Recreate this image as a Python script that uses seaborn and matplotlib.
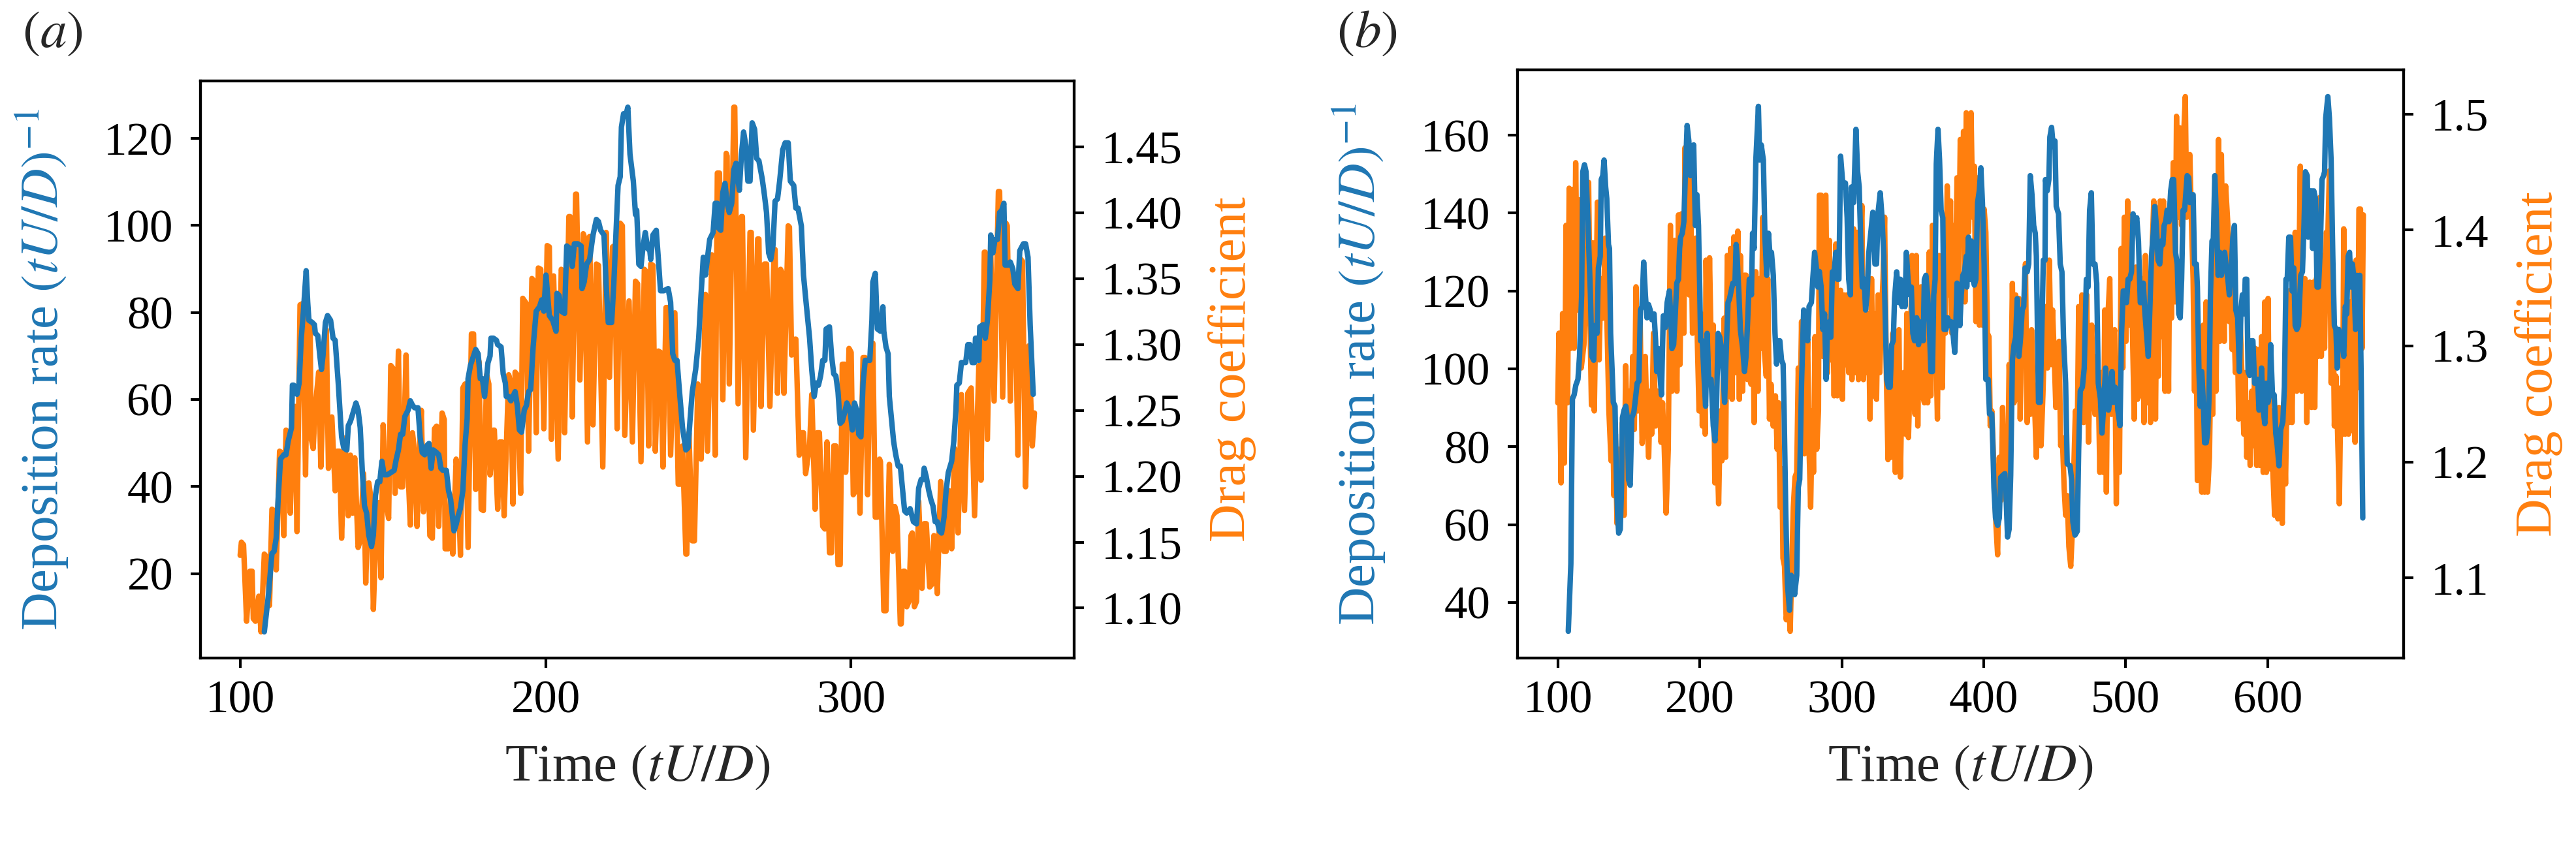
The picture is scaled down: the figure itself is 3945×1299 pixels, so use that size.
import numpy as np
import matplotlib
matplotlib.use("Agg")
import matplotlib.pyplot as plt
import seaborn as sns

# ---------------- data: panel (a) ----------------
a_blue_t = [107.9,109.3,110.4,111.1,111.8,112.5,113.2,114.3,115.0,115.7,116.8,117.1,117.5,118.6,119.3,120.0,120.7,121.6,122.1,122.5,123.6,124.3,124.6,125.4,126.1,126.6,127.1,127.9,128.6,129.6,130.4,131.1,132.1,133.2,133.9,134.9,135.4,136.1,136.8,137.9,138.6,139.3,140.0,140.7,141.4,142.1,143.0,143.6,144.3,145.0,145.7,146.4,147.1,148.2,149.3,150.4,151.1,151.8,152.5,153.2,153.9,155.0,155.7,156.4,157.1,158.2,158.9,159.6,160.4,161.1,161.8,162.5,163.2,164.3,165.0,165.7,166.4,167.5,168.2,168.9,170.0,170.7,171.4,172.1,172.9,173.6,174.3,174.6,175.4,176.1,177.1,177.9,178.6,179.3,180.0,180.7,181.1,181.8,182.1,182.9,183.9,184.3,185.4,186.1,186.8,187.1,187.9,188.6,189.3,190.0,190.7,191.4,192.1,
            193.0,193.7,194.4,195.1,195.9,196.9,198.0,198.7,199.4,200.1,201.2,202.3,203.4,203.7,204.4,205.1,206.2,206.9,208.0,208.7,209.4,210.5,211.6,211.9,212.6,213.4,214.4,215.5,216.6,217.3,218.0,219.1,219.8,220.5,221.6,222.3,223.7,224.4,224.8,225.5,226.2,226.9,227.6,228.7,229.4,229.8,230.5,231.2,231.9,232.6,233.4,234.1,234.4,235.1,236.2,236.9,237.6,238.7,240.1,240.9,241.6,242.3,243.0,243.7,244.8,245.9,246.6,247.3,248.0,249.1,250.1,250.9,251.6,252.3,253.0,253.7,254.8,255.5,256.2,256.6,257.3,258.0,258.7,259.4,260.1,260.9,261.6,262.3,263.4,264.1,264.8,265.5,266.2,266.9,267.6,268.4,269.1,269.8,270.9,271.6,272.3,273.0,273.7,274.4,275.1,275.9,276.6,277.6,278.4,279.4,280.1,281.2,281.9,282.6,283.7,284.4,285.1,
            286.4,287.1,287.9,288.6,289.3,290.0,290.7,291.4,291.8,292.9,293.6,294.3,295.0,295.7,296.4,297.1,297.9,298.6,299.6,300.4,301.1,301.8,302.5,303.2,303.9,304.6,306.1,306.8,307.1,307.9,308.6,309.6,310.4,310.7,311.4,312.1,312.5,313.2,313.9,314.6,315.4,316.1,316.8,317.5,318.2,319.3,320.4,321.4,322.1,322.9,323.6,323.9,324.6,325.4,326.1,326.8,327.5,328.2,328.9,329.6,330.4,331.1,331.8,332.9,333.6,334.3,334.6,335.4,336.1,337.5,338.2,338.9,339.6,340.4,340.7,341.4,341.8,342.1,343.2,343.9,344.6,345.4,345.7,346.4,347.1,347.9,348.6,349.3,350.0,350.4,351.4,352.1,352.9,353.6,354.6,355.2,356.4,357.1,357.9,358.6,359.6]
a_blue_v = [6.6,15.4,24.6,25.1,28.2,38.0,46.3,47.3,47.3,50.4,53.5,63.3,63.3,61.2,63.8,74.1,80.3,89.6,82.4,78.2,77.7,77.2,75.2,74.7,70.0,66.9,70.0,77.7,79.3,78.2,74.1,73.6,63.8,51.4,48.9,48.4,54.0,55.0,56.6,59.2,57.6,53.5,43.2,35.5,33.9,28.8,26.2,28.8,38.0,41.1,41.1,45.8,42.7,42.7,43.2,43.7,46.3,48.4,52.0,52.0,56.1,57.6,59.7,58.7,58.1,58.1,51.4,47.8,47.3,49.4,49.9,44.2,48.4,47.8,47.3,44.2,43.7,43.7,39.1,37.0,29.8,31.3,33.4,35.0,39.1,49.4,55.6,64.8,67.9,69.4,71.5,70.5,64.8,64.8,60.7,65.4,68.4,70.0,74.1,74.1,73.6,72.6,72.1,65.9,63.8,60.7,60.7,59.7,60.7,61.8,58.7,53.0,52.5,
            57.6,58.6,61.8,62.3,72.1,80.3,81.3,82.9,80.3,88.6,79.3,78.2,75.7,84.4,83.9,80.3,79.8,95.3,94.7,90.6,95.8,95.8,95.3,85.5,87.0,91.1,92.2,97.8,101.4,100.9,98.9,97.8,86.5,77.7,77.7,86.5,109.2,111.2,122.6,125.7,125.2,127.2,116.4,110.2,102.5,103.5,91.1,90.6,95.3,98.4,94.7,94.2,92.2,97.8,98.9,92.2,85.0,85.0,85.5,82.4,70.5,69.0,69.0,62.8,53.5,48.4,48.9,55.6,61.8,66.9,74.1,84.4,92.7,88.6,92.7,96.8,98.4,105.1,105.1,99.4,98.9,107.6,109.7,105.1,103.0,105.1,112.8,114.3,108.1,116.4,121.5,118.5,110.2,110.2,123.6,122.1,115.4,114.9,110.7,107.1,103.0,93.7,92.2,95.3,105.6,106.1,110.2,117.4,119.0,119.0,110.2,109.2,104.0,104.0,99.9,88.6,83.4,
            74.1,66.9,60.7,63.8,63.3,65.4,69.0,69.0,76.2,76.7,70.0,65.9,65.4,61.8,54.5,55.0,57.1,59.2,57.6,53.0,59.2,57.6,52.0,51.4,63.8,69.0,69.0,78.2,87.0,89.0,76.2,75.7,81.3,75.7,72.1,70.5,60.7,55.6,50.4,47.3,44.7,44.7,39.6,34.4,33.9,34.9,31.9,31.4,39.6,41.6,41.6,44.2,42.2,39.1,37.0,35.5,31.9,31.9,29.8,29.3,32.9,39.1,43.2,45.8,50.4,57.6,63.3,63.8,68.5,68.5,72.6,72.6,68.5,68.5,74.1,74.1,69.0,76.7,77.2,74.1,78.2,87.5,97.8,93.7,96.8,96.8,103.0,103.5,105.1,90.9,90.9,91.6,90.1,86.5,85.5,94.2,95.8,95.8,92.7,77.2,61.2]

a_drag_t = [100.0,100.4,101.1,102.1,103.2,103.9,104.3,105.0,106.1,106.8,107.9,108.9,109.6,110.4,111.1,111.8,112.9,113.6,114.3,115.0,115.7,116.4,117.1,117.9,118.6,119.6,120.4,121.4,122.1,122.9,123.2,123.9,124.6,125.7,126.4,127.5,128.2,128.9,130.0,131.1,131.8,132.5,133.2,134.3,135.4,136.1,136.8,137.5,138.6,139.3,140.4,141.1,142.1,142.9,143.6,144.3,145.4,146.1,146.8,147.9,148.6,149.3,150.0,150.7,151.8,152.5,153.2,154.3,155.0,155.7,156.4,157.1,157.9,158.6,159.3,160.0,160.7,161.4,162.1,162.9,163.6,164.3,165.0,166.1,166.8,167.1,168.2,168.9,169.6,170.7,171.4,172.1,172.9,173.6,174.6,175.7,176.4,177.1,178.2,178.9,179.6,180.7,181.4,181.8,182.9,183.2,184.3,185.0,185.7,186.4,187.9,188.6,189.3,190.0,190.7,191.8,192.5,
            193.7,194.4,195.5,196.2,196.9,197.6,198.4,199.4,200.5,201.2,201.9,202.6,204.1,205.1,205.5,206.2,207.6,208.0,208.7,209.8,210.1,211.2,212.3,212.6,213.7,214.4,215.5,216.6,217.3,218.7,219.8,220.9,221.9,222.6,223.4,224.4,225.1,225.9,227.3,228.4,229.4,230.1,231.2,232.3,233.0,233.7,234.4,235.1,235.9,236.9,237.6,238.4,239.4,240.1,240.9,242.3,243.4,244.1,244.8,245.9,246.2,246.9,248.0,248.7,249.8,250.9,251.9,252.3,253.0,254.4,255.5,256.2,256.9,258.0,259.1,259.4,260.1,261.6,261.9,263.0,264.1,264.4,265.5,266.9,267.3,268.0,269.4,269.8,270.5,271.6,272.3,273.4,274.8,275.1,275.9,276.9,277.3,278.0,279.4,279.8,280.5,281.6,281.9,283.0,283.7,284.4,285.1,
            286.4,287.1,288.2,288.9,289.6,290.7,291.4,292.1,292.9,293.6,294.3,295.0,295.7,296.4,297.1,297.9,298.2,299.3,300.0,300.7,301.4,302.1,302.9,303.9,304.6,305.4,306.1,307.1,307.9,308.6,309.3,309.6,310.7,311.4,312.5,313.6,314.3,315.0,316.1,316.4,317.1,317.5,318.2,318.9,319.6,320.0,320.7,321.4,322.1,323.2,323.9,324.6,325.7,326.4,327.1,328.2,329.3,330.4,331.1,332.1,332.9,333.9,335.0,336.1,337.1,338.2,339.3,340.4,341.8,342.5,343.6,343.9,344.6,345.7,346.8,348.2,348.6,349.6,350.7,351.1,352.1,352.9,353.6,354.6,355.4,356.1,357.1,358.2,359.3,360.0]
a_drag_c = [1.140,1.150,1.148,1.090,1.128,1.128,1.092,1.090,1.109,1.082,1.141,1.138,1.102,1.175,1.174,1.129,1.219,1.218,1.155,1.235,1.233,1.172,1.233,1.253,1.158,1.330,1.331,1.201,1.321,1.317,1.229,1.221,1.253,1.279,1.207,1.283,1.311,1.206,1.245,1.189,1.219,1.219,1.153,1.229,1.170,1.216,1.172,1.214,1.146,1.151,1.202,1.119,1.195,1.182,1.099,1.148,1.180,1.123,1.239,1.177,1.168,1.284,1.282,1.187,1.295,1.192,1.192,1.292,1.202,1.163,1.233,1.219,1.162,1.213,1.250,1.173,1.182,1.219,1.155,1.153,1.236,1.238,1.162,1.248,1.243,1.145,1.145,1.185,1.141,1.213,1.192,1.140,1.267,1.270,1.146,1.308,1.308,1.190,1.287,1.175,1.174,1.277,1.270,1.201,1.235,1.235,1.175,1.226,1.226,1.170,1.277,1.270,1.179,1.279,1.277,1.187,1.335,
            1.331,1.219,1.350,1.348,1.233,1.358,1.357,1.236,1.375,1.374,1.228,1.352,1.213,1.357,1.355,1.233,1.397,1.397,1.245,1.414,1.414,1.273,1.384,1.382,1.226,1.382,1.239,1.361,1.360,1.207,1.385,1.275,1.374,1.375,1.236,1.392,1.390,1.231,1.333,1.226,1.348,1.346,1.211,1.357,1.355,1.223,1.361,1.360,1.219,1.295,1.294,1.207,1.328,1.328,1.216,1.324,1.194,1.194,1.223,1.141,1.141,1.233,1.151,1.151,1.270,1.213,1.294,1.338,1.219,1.368,1.216,1.430,1.430,1.258,1.445,1.443,1.270,1.480,1.480,1.255,1.397,1.397,1.214,1.385,1.385,1.235,1.380,1.380,1.253,1.361,1.361,1.253,1.372,1.372,1.263,1.357,1.355,1.263,1.390,1.389,1.292,1.304,1.304,1.216,1.233,1.233,1.202,
            1.223,1.262,1.175,1.233,1.233,1.162,1.160,1.226,1.142,1.142,1.223,1.223,1.133,1.133,1.285,1.285,1.203,1.297,1.294,1.186,1.189,1.250,1.172,1.290,1.290,1.186,1.284,1.301,1.169,1.169,1.213,1.211,1.098,1.098,1.209,1.143,1.177,1.170,1.088,1.088,1.128,1.128,1.101,1.105,1.155,1.157,1.101,1.105,1.181,1.115,1.164,1.164,1.116,1.118,1.155,1.111,1.196,1.143,1.143,1.189,1.145,1.221,1.157,1.262,1.174,1.263,1.267,1.170,1.284,1.197,1.370,1.370,1.228,1.370,1.257,1.416,1.416,1.260,1.392,1.390,1.257,1.351,1.348,1.216,1.365,1.363,1.192,1.299,1.223,1.248]

# ---------------- data: panel (b) ----------------
b_blue_t = [107.4,109.2,110.3,111.5,112.7,114.2,115.3,116.8,117.6,118.8,119.9,121.4,123.0,124.0,125.3,126.0,127.6,128.6,129.9,130.6,131.7,132.6,133.7,134.5,135.7,136.4,137.2,138.3,139.1,140.3,141.3,142.1,142.9,144.0,144.9,145.5,146.7,147.9,149.0,149.8,151.0,152.1,153.6,154.7,155.9,157.1,158.2,159.3,160.5,161.7,162.8,163.9,165.1,166.3,167.8,168.9,169.7,170.9,172.0,173.0,174.3,175.8,177.0,178.6,179.6,180.4,181.6,182.7,183.8,185.0,185.8,186.5,187.7,188.8,189.9,191.1,192.3,193.4,194.5,195.7,196.9,198.0,199.1,200.0,200.6,201.8,203.1,204.1,205.2,206.4,208.0,209.5,210.7,211.8,212.9,214.1,215.3,216.4,217.5,218.7,219.9,221.0,222.1,223.3,224.8,225.6,226.3,227.6,228.6,
            230.3,231.5,232.6,233.7,234.9,236.4,237.2,238.3,239.5,241.3,242.2,243.3,244.8,245.9,247.2,248.4,249.5,250.5,251.8,253.0,254.1,255.1,256.4,257.6,258.7,259.4,260.6,261.7,263.2,264.3,265.5,266.8,268.3,269.4,270.4,271.7,273.2,274.7,276.0,277.0,278.6,279.6,280.9,282.1,283.2,284.2,285.5,286.7,287.9,289.0,290.0,291.3,292.3,293.4,294.6,295.9,296.9,298.0,299.2,300.5,301.5,302.6,303.8,304.9,306.1,306.9,308.4,310.0,311.2,312.3,313.3,314.5,315.8,316.8,317.9,319.1,320.7,321.9,323.4,324.5,325.6,327.1,328.3,329.6,330.6,331.7,332.9,334.1,335.2,336.3,337.2,338.7,340.3,341.3,342.4,343.6,344.6,345.5,346.7,347.9,349.0,350.1,351.3,352.8,354.1,355.1,356.2,357.4,358.2,359.3,360.5,361.7,362.8,363.9,364.8,365.8,366.6,367.8,368.9,370.0,371.2,372.1,373.5,374.6,375.8,377.0,378.1,379.6,380.4,381.2,382.2,383.2,384.2,385.3,386.5,387.7,
            388.1,389.3,390.4,391.4,392.3,393.4,394.5,395.7,396.9,398.0,399.1,400.3,401.5,403.1,404.1,405.7,406.4,407.2,408.3,409.8,411.0,411.9,413.3,414.9,415.9,416.8,417.9,419.0,420.2,421.4,422.5,423.6,424.8,426.0,427.1,428.2,429.1,430.6,431.7,432.8,434.0,435.2,436.3,437.1,437.8,438.6,439.8,440.9,442.0,443.2,443.5,444.7,445.9,446.6,447.8,449.0,450.2,451.1,452.7,453.9,455.1,456.2,457.7,458.8,460.8,461.9,462.8,464.3,465.9,466.9,468.0,469.5,470.8,472.3,473.5,474.6,475.8,476.9,478.4,479.6,480.7,482.2,483.3,484.5,485.8,486.8,487.9,489.1,490.4,491.4,492.5,493.7,494.5,496.0,497.1,498.3,499.5,500.6,501.7,502.9,504.1,505.2,506.7,507.8,509.0,510.3,511.3,512.4,513.6,514.9,515.9,517.0,518.2,519.4,520.5,521.6,522.8,524.0,525.1,526.2,527.1,528.2,529.2,530.5,531.7,532.8,533.8,535.1,536.3,537.4,538.4,539.4,540.4,541.5,
            543.3,544.4,545.2,546.4,547.5,548.5,549.8,550.5,551.6,552.5,553.6,554.7,555.6,556.7,557.7,558.7,559.7,560.8,561.7,562.8,563.9,565.1,566.3,567.4,568.5,569.7,570.9,572.0,573.0,574.3,575.5,576.6,577.6,578.9,580.1,581.2,582.2,583.5,584.2,585.3,586.2,587.3,588.4,589.6,590.8,591.9,593.0,593.9,594.9,595.7,596.9,598.0,599.1,600.3,601.5,602.1,603.4,604.6,605.7,606.7,608.0,609.2,610.7,611.8,612.9,613.8,614.9,616.1,617.2,618.4,619.4,620.5,621.7,623.3,624.5,625.6,626.6,627.9,628.6,629.7,630.9,631.7,632.5,633.7,634.8,635.8,637.1,638.3,639.4,640.1,640.9,642.4,643.5,644.7,645.9,647.0,648.1,649.0,650.1,651.1,652.4,653.6,654.7,655.7,656.7,657.7,658.8,659.7,660.8,661.9,662.8,663.9,664.9,665.9,667.0]
b_blue_v = [32.6,49.9,92.3,93.3,95.8,97.3,103.2,119.0,150.6,152.4,150.6,135.8,119.0,103.2,102.2,111.1,109.1,125.9,128.9,148.6,149.6,153.6,146.7,143.7,131.9,130.9,109.1,99.3,91.4,90.4,71.6,62.7,57.8,58.8,69.6,87.4,89.4,90.4,87.4,71.6,70.1,87.4,88.9,92.3,96.3,96.8,115.1,116.0,127.4,119.0,113.1,116.5,115.1,112.6,114.1,107.2,99.3,105.2,98.3,93.3,113.6,110.6,117.0,120.0,113.1,105.2,106.2,113.6,122.0,123.0,130.9,133.8,134.8,137.8,150.6,162.5,158.5,149.6,152.6,157.5,136.8,144.7,136.8,120.0,107.2,107.2,97.3,90.4,109.1,96.3,97.3,85.4,81.5,90.4,109.1,108.1,105.2,99.3,91.4,105.2,117.0,118.0,120.0,122.0,122.0,131.9,128.9,119.0,110.1,
            105.0,99.3,103.2,112.1,123.0,119.0,134.8,130.9,153.6,167.4,153.6,157.5,153.6,133.8,124.0,134.8,128.9,129.9,124.0,109.1,101.2,107.2,107.2,102.2,101.2,89.4,62.7,45.0,38.0,47.0,46.0,42.0,47.0,69.6,71.6,96.3,115.1,111.1,107.2,116.0,117.0,123.0,129.9,126.0,121.0,125.0,121.0,110.1,114.1,97.3,111.1,112.1,108.1,124.9,124.9,129.9,123.0,123.0,154.6,148.6,146.7,147.7,138.8,123.0,119.0,146.7,142.7,161.5,150.6,146.7,133.8,121.0,123.0,115.1,119.0,129.9,135.8,140.2,126.9,126.9,140.2,145.2,139.3,128.9,114.1,97.3,95.3,95.3,106.2,107.2,118.0,124.9,117.0,123.0,116.0,122.0,116.0,129.9,123.0,119.0,121.0,109.1,107.2,113.1,106.2,110.1,112.1,107.2,123.0,124.0,119.0,111.1,99.3,99.3,119.0,123.0,152.6,161.5,153.6,140.7,138.8,110.1,110.1,113.1,111.1,112.1,110.1,104.2,111.1,122.0,119.0,111.1,119.0,124.0,124.9,128.9,
            121.0,133.8,123.0,132.8,123.0,121.5,123.0,142.7,145.7,151.6,142.7,126.9,97.3,97.3,88.4,88.4,80.5,69.6,61.7,59.8,61.7,72.1,72.6,73.1,65.7,56.8,58.8,72.6,102.2,106.2,108.1,118.0,103.2,108.1,115.1,116.0,125.9,124.9,126.9,149.6,144.7,136.8,134.8,128.9,111.1,91.4,91.4,109.1,127.9,127.9,148.6,145.7,148.6,159.5,162.0,157.0,158.5,141.7,139.8,126.9,124.9,108.1,96.3,75.6,75.1,71.6,60.7,57.3,58.3,79.5,94.3,95.3,100.2,123.0,121.0,140.7,145.2,126.9,126.9,122.0,96.3,92.3,83.5,90.4,100.2,95.3,89.4,92.3,99.3,91.4,95.3,94.3,89.4,85.4,109.1,120.0,120.0,117.0,123.0,123.0,124.9,139.8,136.8,138.8,132.8,117.0,117.0,122.0,114.1,108.1,103.2,115.1,128.9,134.8,141.7,136.8,127.9,126.9,132.8,131.9,136.8,137.8,140.7,137.8,145.7,148.6,148.6,129.9,126.9,114.1,113.1,123.0,140.7,140.7,
            149.6,149.1,142.7,144.7,144.7,126.9,126.9,121.0,99.3,90.4,99.3,91.4,81.0,81.0,83.5,92.3,119.0,132.8,132.8,149.6,138.8,124.0,129.9,124.0,128.9,129.9,125.9,123.0,119.0,124.9,133.8,136.8,115.1,113.1,99.3,115.1,119.0,114.1,123.0,123.0,99.3,98.3,107.2,107.2,96.3,97.3,97.3,89.4,90.4,100.2,89.4,85.9,96.3,91.4,94.3,106.2,93.3,93.3,83.5,80.5,75.1,84.4,86.4,95.3,123.0,123.0,133.8,133.8,120.0,125.9,111.1,110.1,111.1,124.0,124.9,136.8,150.6,149.6,133.8,145.7,145.7,130.9,145.7,143.7,121.0,121.0,130.9,148.6,149.6,150.6,164.4,169.9,164.4,153.6,128.9,111.1,110.1,100.2,110.1,107.2,109.1,103.2,116.0,114.1,128.9,129.9,121.0,126.9,123.0,110.1,124.0,120.0,124.0,97.3,61.7]

b_drag_t = [100.0,100.8,102.3,103.4,104.6,105.8,106.9,108.0,109.2,110.4,111.5,112.6,113.8,115.0,116.5,118.4,119.9,121.7,123.0,123.7,124.5,125.7,126.8,127.9,129.1,130.3,131.9,133.4,134.5,136.0,137.5,138.6,139.5,140.6,141.7,142.9,144.1,145.6,146.7,147.8,149.0,150.2,151.3,152.8,153.9,155.1,156.4,157.9,159.4,160.5,161.6,162.8,164.0,165.1,166.2,167.4,168.9,170.4,171.7,172.7,173.8,175.0,176.3,177.8,179.3,180.4,181.5,182.4,183.9,185.0,186.1,187.3,188.8,189.6,190.7,191.6,192.6,193.4,194.9,196.2,197.2,198.3,199.5,200.8,201.8,202.9,203.8,204.4,205.7,206.9,208.0,209.5,210.6,211.8,213.3,214.5,215.6,217.2,218.2,219.4,220.7,221.7,222.8,224.0,225.3,226.8,227.9,228.6,230.2,231.4,
            232.6,233.7,234.9,236.1,237.2,238.3,239.5,241.0,242.2,243.3,244.4,245.6,246.8,247.9,249.1,250.2,251.7,253.3,254.5,255.5,256.6,257.9,258.6,259.7,260.9,262.5,263.7,264.8,265.9,267.1,268.3,269.4,270.4,271.7,272.9,273.7,274.7,276.0,277.0,278.1,279.3,280.1,281.2,282.4,283.6,284.2,285.5,286.7,287.7,288.8,290.0,291.3,292.3,293.4,294.6,295.9,296.9,298.0,299.2,300.5,301.5,302.6,303.8,304.9,306.1,307.2,308.4,309.6,310.7,311.8,313.0,314.2,315.3,316.4,317.6,318.8,319.9,321.0,322.2,323.4,324.5,325.6,326.8,328.0,329.1,330.2,331.4,332.6,333.7,334.8,336.0,336.8,337.8,339.1,340.3,341.3,342.4,343.6,344.9,345.9,347.0,348.2,349.5,350.5,351.6,352.5,353.6,354.7,355.9,357.1,358.2,359.3,360.5,361.7,362.8,363.9,365.1,366.3,367.4,368.5,369.7,370.9,372.0,373.0,374.3,375.5,376.6,377.6,378.9,380.1,381.2,382.2,383.5,384.7,385.8,386.8,387.7,
            388.1,389.3,391.1,392.3,393.4,394.5,395.7,396.9,398.0,399.1,400.3,401.5,402.6,403.7,404.6,405.7,406.4,407.7,408.7,409.8,411.0,412.3,413.3,414.4,415.6,416.8,417.9,419.0,420.2,421.4,422.5,423.6,424.8,425.7,427.1,428.2,429.4,430.6,431.7,432.8,433.7,434.8,435.8,437.1,438.3,439.4,440.4,441.7,442.9,444.0,445.0,446.2,447.5,448.5,449.6,450.8,452.1,453.1,454.2,455.4,456.7,457.7,458.8,460.0,461.3,462.3,463.4,464.6,465.8,466.9,468.0,469.2,470.4,471.5,472.6,473.8,475.0,476.1,477.2,478.4,479.6,480.7,481.8,483.0,484.2,485.3,486.4,487.6,488.8,489.9,491.0,492.2,493.4,494.5,495.6,496.8,498.0,499.1,500.2,501.4,502.6,503.7,504.7,506.0,507.2,508.3,509.3,510.6,511.8,512.9,513.9,515.2,516.4,517.5,518.5,519.8,521.0,522.1,523.1,524.3,525.6,526.6,527.7,528.9,530.2,531.2,532.3,533.5,534.8,535.8,536.9,538.1,539.4,540.4,542.0,543.0,
            545.2,546.4,547.5,548.5,549.4,550.5,551.6,552.5,553.6,554.7,555.6,556.7,557.7,559.0,560.2,561.3,562.4,563.6,564.8,565.4,566.3,567.4,568.5,569.4,570.4,572.0,573.0,574.0,575.0,576.1,577.3,578.6,579.6,580.7,581.9,583.2,584.2,585.3,586.5,587.7,588.8,589.9,591.1,592.3,593.4,594.5,595.7,596.9,598.0,599.1,600.3,601.5,602.6,603.7,604.9,606.1,607.2,608.0,609.2,610.3,611.3,612.6,613.8,614.9,615.9,617.2,618.4,619.4,620.5,621.7,623.0,624.0,625.1,626.3,627.6,628.6,629.7,630.9,632.2,633.2,634.3,635.5,636.8,637.8,638.9,640.1,641.3,642.4,643.5,644.7,645.9,647.0,648.1,649.3,650.5,651.6,652.7,653.6,654.7,655.7,657.0,658.2,659.3,660.3,661.6,662.3,663.4,664.3,665.4,666.5,667.4]
b_drag_c = [1.251,1.311,1.182,1.328,1.199,1.404,1.251,1.436,1.298,1.435,1.298,1.458,1.331,1.426,1.281,1.301,1.344,1.441,1.298,1.249,1.389,1.244,1.328,1.424,1.288,1.358,1.324,1.393,1.328,1.244,1.201,1.254,1.171,1.224,1.147,1.211,1.167,1.234,1.154,1.283,1.224,1.261,1.211,1.291,1.228,1.351,1.244,1.328,1.216,1.244,1.291,1.237,1.204,1.261,1.224,1.311,1.231,1.261,1.254,1.217,1.251,1.211,1.156,1.211,1.404,1.261,1.311,1.391,1.261,1.413,1.284,1.414,1.311,1.471,1.388,1.441,1.344,1.445,1.311,1.351,1.393,1.304,1.244,1.328,1.231,1.311,1.224,1.374,1.277,1.376,1.301,1.318,1.182,1.227,1.164,1.244,1.201,1.324,1.204,1.378,1.257,1.384,1.254,1.394,1.277,1.399,1.254,1.378,1.261,1.361,
            1.361,1.271,1.358,1.267,1.344,1.234,1.364,1.261,1.358,1.298,1.411,1.294,1.274,1.358,1.237,1.267,1.231,1.257,1.211,1.251,1.161,1.194,1.117,1.110,1.064,1.081,1.054,1.110,1.161,1.187,1.191,1.281,1.227,1.321,1.217,1.207,1.244,1.304,1.211,1.161,1.244,1.191,1.308,1.211,1.244,1.430,1.430,1.291,1.428,1.430,1.277,1.391,1.288,1.368,1.257,1.388,1.257,1.328,1.348,1.254,1.344,1.284,1.344,1.277,1.358,1.271,1.401,1.277,1.398,1.271,1.371,1.421,1.271,1.324,1.277,1.328,1.237,1.358,1.257,1.328,1.254,1.344,1.277,1.328,1.358,1.411,1.277,1.202,1.261,1.204,1.311,1.257,1.191,1.311,1.314,1.187,1.261,1.277,1.224,1.328,1.221,1.277,1.378,1.311,1.241,1.378,1.231,1.328,1.351,1.257,1.251,1.328,1.251,1.381,1.257,1.404,1.284,1.304,1.237,1.378,1.277,1.264,1.404,1.311,1.438,1.344,1.425,1.311,1.404,1.344,1.445,1.338,1.478,1.391,1.485,1.338,1.501,
            1.498,1.398,1.501,1.411,1.455,1.321,1.445,1.318,1.438,1.318,1.418,1.398,1.311,1.308,1.231,1.244,1.221,1.177,1.144,1.120,1.204,1.167,1.247,1.177,1.224,1.177,1.284,1.244,1.354,1.251,1.344,1.254,1.341,1.237,1.331,1.291,1.371,1.234,1.298,1.241,1.314,1.267,1.251,1.204,1.267,1.244,1.214,1.258,1.311,1.334,1.281,1.374,1.284,1.331,1.294,1.247,1.288,1.304,1.214,1.221,1.177,1.154,1.171,1.127,1.110,1.137,1.191,1.244,1.211,1.334,1.244,1.344,1.234,1.284,1.344,1.217,1.284,1.318,1.257,1.241,1.291,1.267,1.191,1.277,1.191,1.331,1.174,1.328,1.358,1.241,1.304,1.314,1.164,1.274,1.191,1.384,1.281,1.411,1.304,1.425,1.318,1.384,1.318,1.237,1.368,1.254,1.344,1.257,1.358,1.234,1.378,1.251,1.344,1.234,1.378,1.425,1.237,1.378,1.274,1.425,1.308,1.425,1.261,1.411,1.261,1.418,1.324,1.458,1.338,1.498,1.411,1.488,1.404,1.468,1.515,1.411,
            1.465,1.404,1.358,1.261,1.365,1.184,1.291,1.217,1.174,1.318,1.174,1.338,1.174,1.204,1.308,1.241,1.398,1.261,1.384,1.478,1.304,1.465,1.371,1.304,1.438,1.404,1.321,1.351,1.297,1.328,1.277,1.318,1.237,1.318,1.274,1.224,1.277,1.204,1.251,1.197,1.261,1.214,1.298,1.197,1.297,1.197,1.308,1.191,1.338,1.191,1.341,1.194,1.244,1.191,1.154,1.224,1.151,1.247,1.167,1.147,1.251,1.181,1.277,1.234,1.348,1.234,1.358,1.398,1.261,1.331,1.455,1.261,1.328,1.358,1.234,1.331,1.355,1.247,1.355,1.247,1.358,1.291,1.428,1.291,1.378,1.298,1.398,1.395,1.451,1.268,1.358,1.231,1.274,1.224,1.164,1.264,1.224,1.401,1.224,1.318,1.224,1.338,1.227,1.371,1.217,1.374,1.264,1.418,1.418,1.298,1.413]

# ---------------- ticks / labels ----------------
a_xticks = [100, 200, 300]
a_left_ticks = [20, 40, 60, 80, 100, 120]
a_right_ticks = [1.10, 1.15, 1.20, 1.25, 1.30, 1.35, 1.40, 1.45]
b_xticks = [100, 200, 300, 400, 500, 600]
b_left_ticks = [40, 60, 80, 100, 120, 140, 160]
b_right_ticks = [1.1, 1.2, 1.3, 1.4, 1.5]
panel_tags = [r"$(a)$", r"$(b)$"]
xlabel_text = r"Time $(tU/D)$"
ylabel_left = r"Deposition rate $(tU/D)^{-1}$"
ylabel_right = "Drag coefficient"

BLUE = "#1f77b4"
ORANGE = "#ff7f0e"

sns.set_style("ticks", {"axes.edgecolor": "black", "xtick.color": "black",
                        "ytick.color": "black"})
plt.rcParams["font.family"] = ["Liberation Serif", "DejaVu Serif"]
plt.rcParams["mathtext.fontset"] = "stix"
plt.rcParams["axes.linewidth"] = 1.0

TICK_FS = 17
LABEL_FS = 19.5
LW = 2.0

W, H = 3945.0, 1299.0
fig = plt.figure(figsize=(W / 300, H / 300), dpi=300)
axA = fig.add_axes([307 / W, 1 - 1008 / H, (1645 - 307) / W, (1008 - 124) / H])
axB = fig.add_axes([2324 / W, 1 - 1008 / H, (3681 - 2324) / W, (1008 - 107) / H])

def draw(ax, bt, bv, dt, dc, xt, lt, rt, rfmt):
    ax2 = ax.twinx()
    sns.lineplot(x=bt, y=bv, ax=ax, color=BLUE, linewidth=LW, estimator=None, sort=False)
    sns.lineplot(x=dt, y=dc, ax=ax2, color=ORANGE, linewidth=LW, estimator=None, sort=False)
    ax.set_zorder(ax2.get_zorder() + 1)
    ax.patch.set_visible(False)
    ax.set_xticks(xt)
    ax.set_yticks(lt)
    ax2.set_yticks(rt)
    ax2.set_yticklabels([rfmt.format(v) for v in rt])
    ax.tick_params(axis="x", labelsize=TICK_FS, width=1.0, length=3.5, pad=4.5)
    ax.tick_params(axis="y", labelsize=TICK_FS, width=1.0, length=3.5, pad=6.5)
    ax2.tick_params(axis="y", labelsize=TICK_FS, width=1.0, length=3.5, pad=6.5)
    ax.set_xlabel(xlabel_text, fontsize=LABEL_FS, labelpad=8)
    ax.set_ylabel(ylabel_left, fontsize=LABEL_FS, color=BLUE, labelpad=12)
    ax2.set_ylabel(ylabel_right, fontsize=LABEL_FS, color=ORANGE, labelpad=9.5)
    for s in ax2.spines.values():
        s.set_color("black")
    return ax2

draw(axA, a_blue_t, a_blue_v, a_drag_t, a_drag_c, a_xticks, a_left_ticks, a_right_ticks, "{:.2f}")
draw(axB, b_blue_t, b_blue_v, b_drag_t, b_drag_c, b_xticks, b_left_ticks, b_right_ticks, "{:.1f}")

fig.text(80 / W, 1 - 52 / H, panel_tags[0], ha="center", va="center", fontsize=LABEL_FS)
fig.text(2093 / W, 1 - 52 / H, panel_tags[1], ha="center", va="center", fontsize=LABEL_FS)

fig.savefig("out.png", dpi=300)
